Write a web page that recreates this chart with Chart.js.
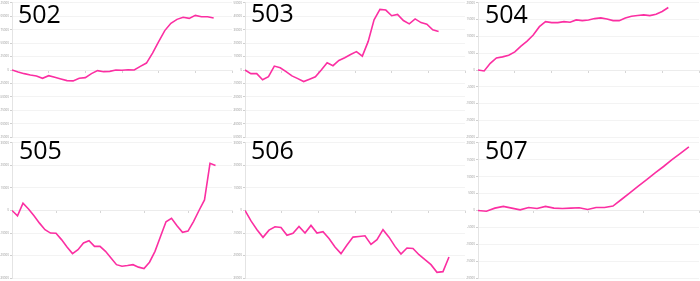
<!DOCTYPE html>
<html lang="en">
<head>
    <meta charset="UTF-8">
    <title>Panels 502-507</title>
    <script src="https://cdn.jsdelivr.net/npm/chart.js"></script>
    <style>
        body { margin: 0; background: #fff; }
        #wrap { position: relative; width: 700px; height: 281px; overflow: hidden; }
        #wrap canvas { position: absolute; }
        .lbl { position: absolute; font-family: "Open Sans", sans-serif; font-size: 25px; line-height: 25px; color: #000; }
    </style>
</head>
<body>
<div id="wrap">
    <canvas id="c502" width="233" height="140" style="left:0;top:0"></canvas>
    <canvas id="c503" width="233" height="140" style="left:233px;top:0"></canvas>
    <canvas id="c504" width="234" height="140" style="left:466px;top:0"></canvas>
    <canvas id="c505" width="233" height="141" style="left:0;top:140px"></canvas>
    <canvas id="c506" width="233" height="141" style="left:233px;top:140px"></canvas>
    <canvas id="c507" width="234" height="141" style="left:466px;top:140px"></canvas>
    <div class="lbl" style="left:18px;top:1px">502</div>
    <div class="lbl" style="left:251px;top:0px">503</div>
    <div class="lbl" style="left:485px;top:1px">504</div>
    <div class="lbl" style="left:19px;top:137px">505</div>
    <div class="lbl" style="left:251px;top:137px">506</div>
    <div class="lbl" style="left:485px;top:137px">507</div>
</div>

<script>
    const values502 = [0, -3700, -6800, -9200, -11000, -15400, -10500, -13500, -16600, -19700, -20300, -15400,
        -14200, -6800, -1200, -3100, -2500, 0, -600, 600, 0, 6800, 12900, 31400, 53000, 73300, 86800, 94200,
        98000, 96000, 101600, 99000, 99000, 96700];
    const values503 = [0, -2700, -2700, -7300, -4900, 2900, 1700, -1200, -4400, -6400, -8600, -6900, -5100, 0,
        5400, 3200, 7100, 9100, 11500, 13700, 10300, 21300, 37300, 45100, 44600, 40400, 41400, 36800, 34300,
        38000, 35300, 34100, 29900, 28700];
    const values504 = [0, -300, 2000, 3600, 3900, 4400, 5400, 7100, 8600, 10400, 12900, 14400, 14100, 14100,
        14400, 14200, 14900, 14700, 14900, 15300, 15500, 15200, 14700, 14700, 15500, 16000, 16200, 16400,
        16200, 16600, 17400, 18600];
    const values505 = [0, -2350, 3200, 700, -2350, -5600, -8500, -10000, -10100, -12900, -16200, -19100, -17400,
        -14400, -13400, -15900, -15900, -18100, -21000, -24000, -24700, -24400, -24000, -25100, -25700, -22900,
        -18100, -11500, -5000, -3500, -6800, -9700, -9100, -4900, 0, 4700, 20900, 19900];
    const values506 = [0, -4600, -8500, -11900, -8700, -7200, -7500, -11000, -10100, -7100, -10000, -6600,
        -10000, -9400, -12400, -16200, -19100, -15300, -11800, -11500, -11200, -15000, -12900, -8500, -11800,
        -15900, -19300, -16600, -16800, -19600, -21800, -24000, -27400, -27100, -20600];
    const values507 = [0, -200, 700, 1200, 700, 200, 900, 600, 1200, 700, 600, 700, 800, 300, 900, 900, 1300,
        3250, 5200, 7200, 9100, 11100, 13000, 15000, 16900, 18800];

    // limites dos eixos: [yMax, yStep, xMax, numero de intervalos no x]
    const axes502 = [125000, 25000, 36, 6];
    const axes503 = [50000, 10000, 37.5, 6];
    const axes504 = [20000, 5000, 36, 6];
    const axes505 = [30000, 10000, 40, 5];
    const axes506 = [30000, 10000, 36.67, 6];
    const axes507 = [20000, 5000, 26.2, 4];

    const lineColor = '#fb2fa2';

    function makeChart(id, values, axes) {
        const [yMax, yStep, xMax, xSteps] = axes;
        return new Chart(document.getElementById(id), {
            type: 'line',
            data: {
                datasets: [{
                    data: values.map((v, i) => ({ x: i, y: v })),
                    borderColor: lineColor,
                    borderWidth: 1.6,
                    pointRadius: 0,
                    tension: 0,
                    fill: false
                }]
            },
            options: {
                responsive: false,
                animation: false,
                events: [],
                layout: { padding: { top: 1, right: 1, bottom: 1, left: 0 } },
                plugins: { legend: { display: false }, tooltip: { enabled: false } },
                scales: {
                    x: {
                        type: 'linear',
                        position: { y: 0 },
                        min: 0,
                        max: xMax,
                        ticks: { display: false, count: xSteps + 1 },
                        grid: { drawOnChartArea: false, tickLength: 2, color: '#d6d6d6' },
                        border: { color: '#ececec' }
                    },
                    y: {
                        min: -yMax,
                        max: yMax,
                        ticks: {
                            stepSize: yStep,
                            padding: 1,
                            color: '#9a9a9a',
                            font: { size: 3, family: 'Open Sans' },
                            callback: (v) => String(v)
                        },
                        grid: { color: '#f3f3f3', tickLength: 2, tickColor: '#cfcfcf' },
                        border: { color: '#e4e4e4' },
                        afterFit: (scale) => { scale.width = 12; }
                    }
                }
            }
        });
    }

    makeChart('c502', values502, axes502);
    makeChart('c503', values503, axes503);
    makeChart('c504', values504, axes504);
    makeChart('c505', values505, axes505);
    makeChart('c506', values506, axes506);
    makeChart('c507', values507, axes507);
</script>
</body>
</html>
